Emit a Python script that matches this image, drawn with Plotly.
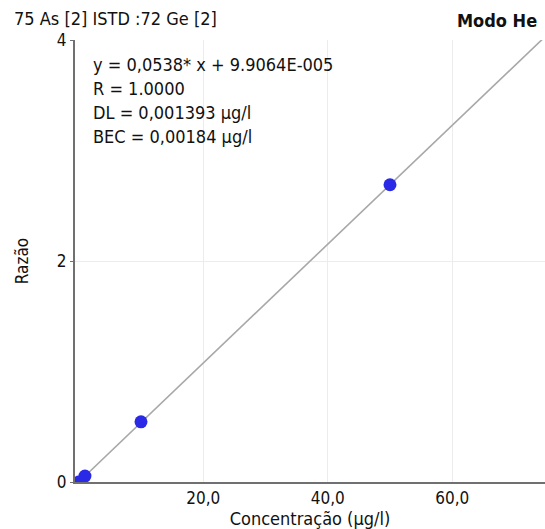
import plotly.graph_objects as go

conc = [0.0, 1.0, 10.0, 50.0]
ratio = [0.0001, 0.054, 0.545, 2.69]
slope = 0.0538
intercept = 9.9064e-05
fit_x = [0.0, 80.0]
fit_y = [slope * v + intercept for v in fit_x]

x_tickvals = [20, 40, 60]
x_ticktext = ["20,0", "40,0", "60,0"]
y_tickvals = [0, 2, 4]

info_lines = ["y = 0,0538* x + 9.9064E-005", "R = 1.0000", "DL = 0,001393 µg/l", "BEC = 0,00184 µg/l"]

FONT = "DejaVu Sans Condensed, Roboto, sans-serif"

fig = go.Figure()
fig.add_trace(go.Scatter(x=fit_x, y=fit_y, mode="lines",
                         line=dict(color="#a8a8a8", width=1.6), hoverinfo="skip"))
fig.add_trace(go.Scatter(x=conc, y=ratio, mode="markers",
                         marker=dict(color="#2a2ae6", size=13, line=dict(width=0))))

fig.update_layout(
    width=545, height=529,
    margin=dict(l=75, r=0, t=40, b=47),
    paper_bgcolor="white", plot_bgcolor="white",
    showlegend=False,
    font=dict(family=FONT, size=16, color="#111111"),
    xaxis=dict(range=[-0.6, 74.9], tickvals=x_tickvals, ticktext=x_ticktext,
               showgrid=True, gridcolor="#ececec", gridwidth=1,
               showline=True, linecolor="#707070", linewidth=2,
               zeroline=False, ticks="", tickfont=dict(size=17),
               title=dict(text="Concentração (µg/l)", standoff=0, font=dict(size=18))),
    yaxis=dict(range=[0, 4.0], tickvals=y_tickvals,
               showgrid=True, gridcolor="#ececec", gridwidth=1,
               showline=True, linecolor="#707070", linewidth=2,
               zeroline=False, ticks="outside", ticklen=3, tickcolor="#707070",
               tickfont=dict(size=17),
               title=dict(text="Razão", standoff=24, font=dict(size=17))),
)

annotations = [
    dict(text="75 As [2] ISTD :72 Ge [2]", xref="paper", yref="paper", x=-75/470, y=1.0 + 40/442,
         xanchor="left", yanchor="top", showarrow=False, font=dict(size=18), yshift=-6, xshift=12),
    dict(text="<b>Modo He</b>", xref="paper", yref="paper", x=1.0, y=1.0 + 40/442,
         xanchor="right", yanchor="top", showarrow=False, font=dict(size=18), yshift=-8, xshift=-6),
]
for i, t in enumerate(info_lines):
    annotations.append(dict(text=t, xref="paper", yref="paper", x=16/470, y=1.0 - (12 + 24 * i) / 442,
                            xanchor="left", yanchor="top", showarrow=False, font=dict(size=18)))
fig.update_layout(annotations=annotations)

fig.write_html("out.html")
